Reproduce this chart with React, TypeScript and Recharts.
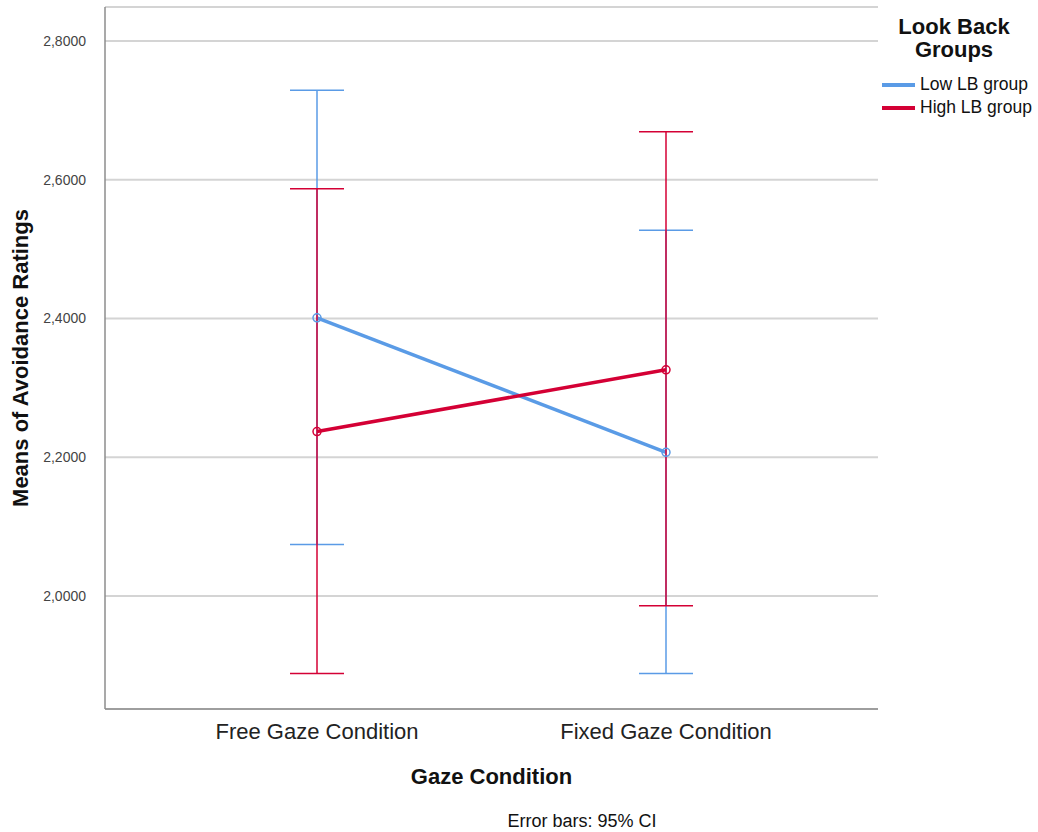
import { LineChart, Line, XAxis, YAxis, CartesianGrid, ErrorBar, Label } from 'recharts';

// values (means with 95% CI bounds)
const categories = ['Free Gaze Condition', 'Fixed Gaze Condition'];
const lowMeans = [2.401, 2.207];
const lowLower = [2.074, 1.888];
const lowUpper = [2.729, 2.527];
const highMeans = [2.237, 2.326];
const highLower = [1.888, 1.986];
const highUpper = [2.587, 2.669];
const yTicks = [2.0, 2.2, 2.4, 2.6, 2.8];

const BLUE = '#5a9be6';
const RED = '#d40035';
const FONT = '"Liberation Sans", Arial, sans-serif';

const data = categories.map((name, i) => ({
  name,
  low: lowMeans[i],
  lowErr: [lowMeans[i] - lowLower[i], lowUpper[i] - lowMeans[i]],
  high: highMeans[i],
  highErr: [highMeans[i] - highLower[i], highUpper[i] - highMeans[i]],
}));

const legendItems = [
  { label: 'Low LB group', color: BLUE },
  { label: 'High LB group', color: RED },
];

// legend kept outside the chart so it doesn't eat into the plot width
const LegendBox = () => (
  <div style={{ position: 'absolute', top: 15, left: 870, width: 168, fontFamily: FONT, color: '#111' }}>
    <div style={{ fontWeight: 'bold', fontSize: 22, lineHeight: '23px', textAlign: 'center' }}>
      Look Back<br />Groups
    </div>
    <div style={{ marginTop: 12 }}>
      {legendItems.map((it) => (
        <div key={it.label} style={{ display: 'flex', alignItems: 'center', height: 23, fontSize: 17.5 }}>
          <span style={{ display: 'inline-block', width: 33, height: 4, background: it.color, marginLeft: 12, marginRight: 5 }} />
          <span>{it.label}</span>
        </div>
      ))}
    </div>
  </div>
);

export default function App() {
  return (
    <div style={{ position: 'absolute', left: 0, top: 0, width: 1038, height: 832, background: '#fff' }}>
      <LineChart width={1038} height={832} data={data} margin={{ top: 7, right: 160, bottom: 73, left: 0 }}>
        <CartesianGrid vertical={false} stroke="#d4d4d4" strokeWidth={2} />
        <XAxis
          dataKey="name"
          padding={{ left: 212, right: 212 }}
          height={50}
          interval={0}
          tickLine={false}
          tickMargin={8}
          axisLine={{ stroke: '#8c8c8c', strokeWidth: 1.5 }}
          tick={{ fill: '#222', fontSize: 22, fontFamily: FONT }}
        >
          <Label value="Gaze Condition" position="bottom" offset={9}
            style={{ fontFamily: FONT, fontWeight: 'bold', fontSize: 22, fill: '#111' }} />
        </XAxis>
        <YAxis
          type="number"
          domain={[1.837, 2.849]}
          ticks={yTicks}
          allowDataOverflow
          width={105}
          tickLine={false}
          tickMargin={13}
          axisLine={{ stroke: '#8c8c8c', strokeWidth: 1.5 }}
          tick={{ fill: '#444', fontSize: 14, fontFamily: FONT }}
          tickFormatter={(v: number) => v.toFixed(4).replace('.', ',')}
        >
          <Label value="Means of Avoidance Ratings" angle={-90} position="insideLeft" offset={20}
            style={{ textAnchor: 'middle', fontFamily: FONT, fontWeight: 'bold', fontSize: 22, fill: '#111' }} />
        </YAxis>
        <Line
          dataKey="low"
          stroke={BLUE}
          strokeWidth={3.5}
          isAnimationActive={false}
          dot={{ r: 4, fill: 'none', stroke: BLUE, strokeWidth: 1.5 }}
          activeDot={false}
        >
          <ErrorBar dataKey="lowErr" width={27} stroke={BLUE} strokeWidth={1.5} direction="y" isAnimationActive={false} />
        </Line>
        <Line
          dataKey="high"
          stroke={RED}
          strokeWidth={3.5}
          isAnimationActive={false}
          dot={{ r: 4, fill: 'none', stroke: RED, strokeWidth: 1.5 }}
          activeDot={false}
        >
          <ErrorBar dataKey="highErr" width={27} stroke={RED} strokeWidth={1.5} direction="y" isAnimationActive={false} />
        </Line>
      </LineChart>
      <LegendBox />
      <div style={{ position: 'absolute', left: 0, width: 1164, top: 811, textAlign: 'center', fontFamily: FONT, fontSize: 18, color: '#111' }}>
        Error bars: 95% CI
      </div>
    </div>
  );
}
